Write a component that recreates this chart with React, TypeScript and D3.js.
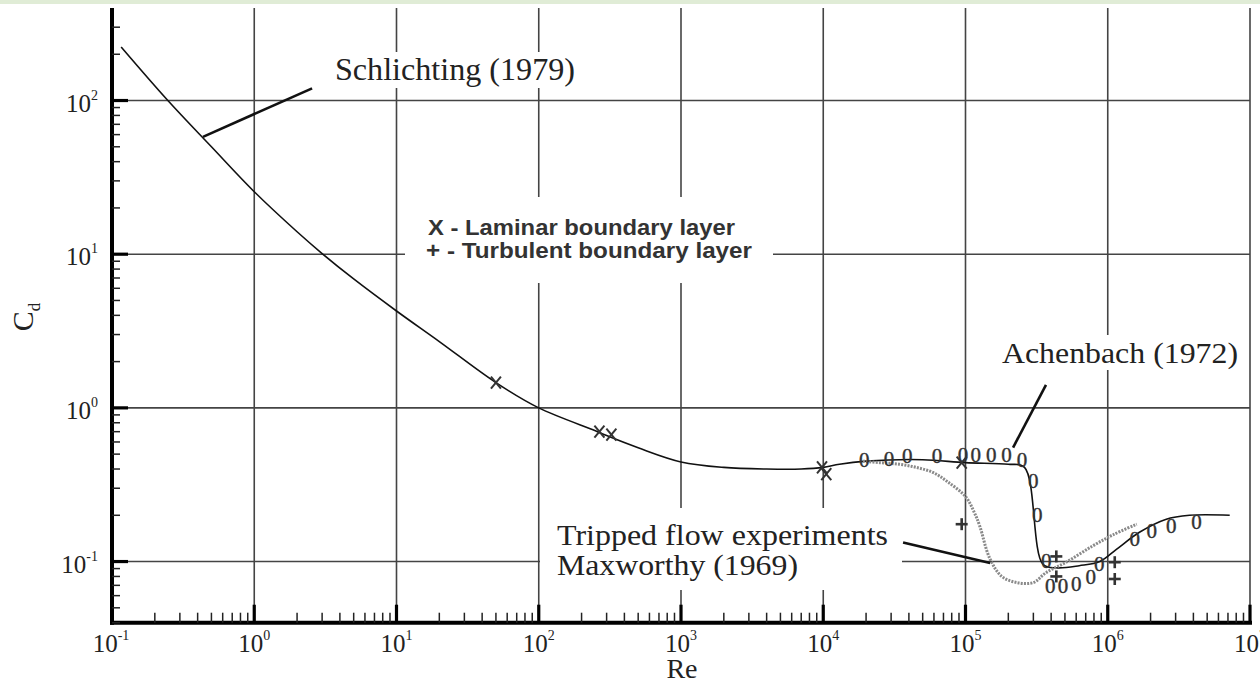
import React from "react";
import * as d3 from "d3";

const W = 1260;
const H = 686;

// Standard drag curve (Schlichting 1979 / Achenbach 1972)
const curveRe = [0.116, 0.247, 0.5, 1, 2, 3, 5, 10, 20, 50, 100, 250, 300, 500, 1000, 2000, 4000, 7000, 10000, 13000, 20000, 50000, 100000, 200000, 260000, 350000, 440000, 630000, 880000, 1150000, 1670000, 2550000, 3760000, 7200000];
const curveCd = [223, 100, 50, 25.5, 14, 10.1, 6.9, 4.27, 2.7, 1.46, 1.0, 0.71, 0.66, 0.55, 0.445, 0.41, 0.40, 0.40, 0.41, 0.43, 0.45, 0.46, 0.44, 0.43, 0.41, 0.096, 0.091, 0.094, 0.10, 0.12, 0.155, 0.188, 0.2, 0.2];

// Tripped flow experiments, Maxworthy (1969)
const trippedRe = [19000, 25000, 34000, 45000, 59000, 75000, 100000, 115000, 126000, 148000, 180000, 230000, 300000, 370000, 510000, 780000, 1100000, 1600000];
const trippedCd = [0.45, 0.44, 0.43, 0.41, 0.38, 0.33, 0.265, 0.21, 0.17, 0.105, 0.080, 0.073, 0.073, 0.085, 0.099, 0.126, 0.15, 0.175];

// X - laminar boundary layer
const laminarRe = [50, 267, 324, 9800, 10500, 94000];
const laminarCd = [1.46, 0.70, 0.67, 0.41, 0.37, 0.44];

// + - turbulent boundary layer
const turbulentRe = [94000, 435000, 435000, 1120000, 1120000];
const turbulentCd = [0.175, 0.108, 0.080, 0.099, 0.077];

// Achenbach data points ("0")
const achenbachRe = [19400, 29000, 39000, 63000, 96000, 118000, 152000, 194000, 250000, 300000, 320000, 370000, 395000, 485000, 600000, 760000, 870000, 1550000, 2040000, 2800000, 4200000];
const achenbachCd = [0.46, 0.466, 0.484, 0.484, 0.497, 0.49, 0.497, 0.49, 0.46, 0.333, 0.202, 0.101, 0.069, 0.069, 0.071, 0.079, 0.096, 0.14, 0.158, 0.17, 0.18];

// axis ticks
const xMajorExp = [-1, 0, 1, 2, 3, 4, 5, 6, 7];
const yMajorExp = [-1, 0, 1, 2];
const yMinor = [0.04, 0.05, 0.06, 0.07, 0.08, 0.09, 0.2, 0.3, 0.4, 0.5, 0.6, 0.7, 0.8, 0.9, 2, 3, 4, 5, 6, 7, 8, 9, 20, 30, 40, 50, 60, 70, 80, 90, 200, 300];

// leader lines in data coordinates [Re1, Cd1, Re2, Cd2]
const leaders = [
  [0.436, 58, 2.55, 120],
  [216000, 0.552, 368000, 1.41],
  [36400, 0.133, 149000, 0.098],
];

const serif = "'Liberation Serif', 'Times New Roman', serif";
const sans = "'Liberation Sans', Arial, sans-serif";

export default function App() {
  const x = d3.scaleLog().domain([0.1, 1e7]).range([112, 1250]);
  const y = d3.scaleLog().domain([0.04, 400]).range([622.7, 8]);
  const xMinor: number[] = [];
  for (let e = -1; e < 7; e++) for (let m = 2; m <= 9; m++) xMinor.push(m * Math.pow(10, e));

  const line = d3
    .line<[number, number]>()
    .x((d) => x(d[0]))
    .y((d) => y(d[1]))
    .curve(d3.curveCatmullRom.alpha(0.5));

  const mainPts = curveRe.map((r, i) => [r, curveCd[i]] as [number, number]);
  const tripPts = trippedRe.map((r, i) => [r, trippedCd[i]] as [number, number]);

  const axisLeft = 112;
  const axisBottom = 622.7;
  const gridColor = "#444";

  return (
    <div style={{ position: "fixed", left: 0, top: 0 }}>
      <svg width={W} height={H} style={{ display: "block", background: "#fff" }}>
        <rect x={0} y={0} width={W} height={4} fill="#e0ecd6" />
        {/* grid */}
        {xMajorExp.slice(1).map((e) => (
          <line key={"gx" + e} x1={x(Math.pow(10, e))} x2={x(Math.pow(10, e))} y1={8} y2={axisBottom} stroke={gridColor} strokeWidth={1.6} />
        ))}
        {yMajorExp.map((e) => (
          <line key={"gy" + e} x1={axisLeft} x2={1250} y1={y(Math.pow(10, e))} y2={y(Math.pow(10, e))} stroke={gridColor} strokeWidth={1.6} />
        ))}
        {/* white boxes behind labels */}
        <rect x={330} y={52} width={250} height={36} fill="#fff" />
        <rect x={405} y={197} width={368} height={86} fill="#fff" />
        <rect x={540} y={508} width={362} height={82} fill="#fff" />
        <rect x={995} y={335} width={250} height={35} fill="#fff" />

        {/* curves */}
        <path d={line(mainPts) || ""} fill="none" stroke="#111" strokeWidth={1.6} />
        <path d={line(tripPts) || ""} fill="none" stroke="#8a8a8a" strokeWidth={3} strokeDasharray="2 1.2" />

        {/* leader lines */}
        {leaders.map((l, i) => (
          <line key={"ld" + i} x1={x(l[0])} y1={y(l[1])} x2={x(l[2])} y2={y(l[3])} stroke="#111" strokeWidth={2.6} />
        ))}

        {/* Achenbach "0" markers */}
        {achenbachRe.map((r, i) => (
          <text key={"o" + i} x={x(r)} y={y(achenbachCd[i]) + 7} textAnchor="middle" fontFamily={serif} fontSize={21} fill="#333" stroke="#333" strokeWidth={0.4}>0</text>
        ))}
        {/* laminar X markers */}
        {laminarRe.map((r, i) => {
          const cx = x(r), cy = y(laminarCd[i]);
          return (
            <g key={"x" + i} stroke="#333" strokeWidth={2}>
              <line x1={cx - 5} y1={cy - 6} x2={cx + 5} y2={cy + 6} />
              <line x1={cx - 5} y1={cy + 6} x2={cx + 5} y2={cy - 6} />
            </g>
          );
        })}
        {/* turbulent + markers */}
        {turbulentRe.map((r, i) => {
          const cx = x(r), cy = y(turbulentCd[i]);
          return (
            <g key={"p" + i} stroke="#333" strokeWidth={2.6}>
              <line x1={cx - 6} y1={cy} x2={cx + 6} y2={cy} />
              <line x1={cx} y1={cy - 6} x2={cx} y2={cy + 6} />
            </g>
          );
        })}

        {/* annotation texts */}
        <text x={335} y={80} fontFamily={serif} fontSize={31} fill="#222" textLength={240} lengthAdjust="spacingAndGlyphs">Schlichting (1979)</text>
        <text x={1002} y={363} fontFamily={serif} fontSize={29} fill="#222" textLength={236} lengthAdjust="spacingAndGlyphs">Achenbach (1972)</text>
        <text x={557} y={545} fontFamily={serif} fontSize={30} fill="#222" textLength={331} lengthAdjust="spacingAndGlyphs">Tripped flow experiments</text>
        <text x={557} y={575} fontFamily={serif} fontSize={30} fill="#222" textLength={241} lengthAdjust="spacingAndGlyphs">Maxworthy (1969)</text>
        <text x={428} y={235} fontFamily={sans} fontWeight="bold" fontSize={22} fill="#333" textLength={307} lengthAdjust="spacingAndGlyphs">X - Laminar boundary layer</text>
        <text x={426} y={258} fontFamily={sans} fontWeight="bold" fontSize={22} fill="#333" textLength={326} lengthAdjust="spacingAndGlyphs">+ - Turbulent boundary layer</text>

        {/* axes */}
        <line x1={axisLeft} x2={axisLeft} y1={8} y2={axisBottom + 2} stroke="#000" strokeWidth={4} />
        <line x1={axisLeft - 2} x2={1252} y1={axisBottom} y2={axisBottom} stroke="#000" strokeWidth={4} />
        {xMinor.map((v, i) => (
          <line key={"xm" + i} x1={x(v)} x2={x(v)} y1={axisBottom} y2={axisBottom - 10} stroke="#222" strokeWidth={1.5} />
        ))}
        {xMajorExp.map((e) => (
          <line key={"xM" + e} x1={x(Math.pow(10, e))} x2={x(Math.pow(10, e))} y1={axisBottom} y2={axisBottom - 18} stroke="#000" strokeWidth={3.2} />
        ))}
        {yMinor.map((v, i) => (
          <line key={"ym" + i} x1={axisLeft} x2={axisLeft + 8} y1={y(v)} y2={y(v)} stroke="#222" strokeWidth={1.5} />
        ))}
        {yMajorExp.map((e) => (
          <line key={"yM" + e} x1={axisLeft} x2={axisLeft + 16} y1={y(Math.pow(10, e))} y2={y(Math.pow(10, e))} stroke="#000" strokeWidth={3.2} />
        ))}

        {/* tick labels */}
        {xMajorExp.map((e) => (
          <text key={"xl" + e} x={x(Math.pow(10, e)) + (e < 0 ? -1 : 0)} y={652} textAnchor="middle" fontFamily={serif} fontSize={25} fill="#222">
            10<tspan dy={-12} fontSize={14}>{String(e)}</tspan>
          </text>
        ))}
        {yMajorExp.map((e) => (
          <text key={"yl" + e} x={98} y={y(Math.pow(10, e)) + 11} textAnchor="end" fontFamily={serif} fontSize={25} fill="#222">
            10<tspan dy={-12} fontSize={14}>{String(e)}</tspan>
          </text>
        ))}

        {/* axis titles */}
        <text x={682} y={678} textAnchor="middle" fontFamily={serif} fontSize={28} fill="#222">Re</text>
        <text transform="translate(33,317) rotate(-90)" textAnchor="middle" fontFamily={serif} fontSize={30} fill="#222">
          C<tspan dy={7} fontSize={17}>d</tspan>
        </text>
      </svg>
    </div>
  );
}
